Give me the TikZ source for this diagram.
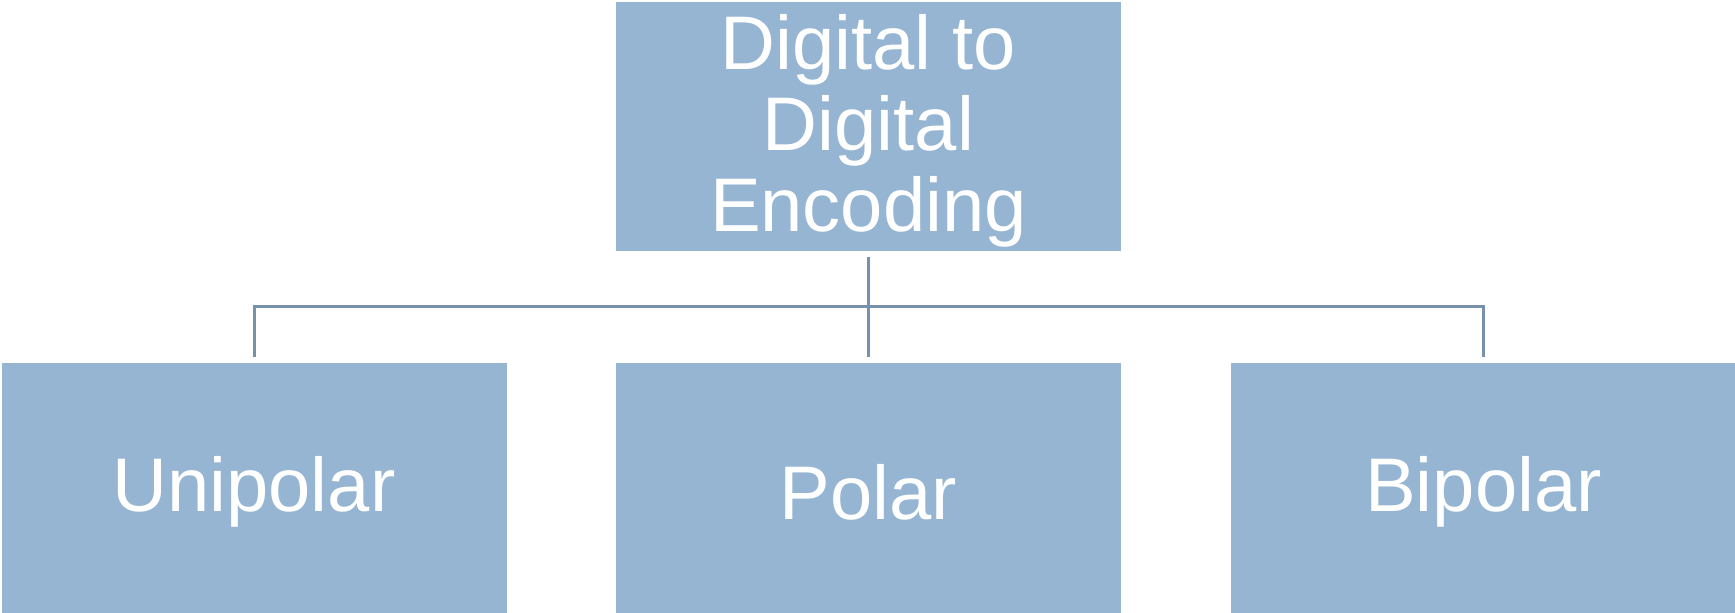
\documentclass[tikz,border=0pt]{standalone}
\usepackage{fontspec}
\setmainfont{Liberation Sans}
\usepackage{tikz}
\usetikzlibrary{positioning}
\definecolor{boxblue}{RGB}{149,181,211}
\definecolor{linkblue}{RGB}{117,145,171}
\tikzset{}

\begin{document}
\begin{tikzpicture}[x=1pt,y=-1pt]
            \tikzset{
                enc node/.style={rectangle,fill=boxblue,minimum width=505pt,minimum height=250pt,inner sep=0},
                enc text/.style={text=white,align=center,inner sep=0,yshift=-4.5pt,font=\fontsize{76}{81}\selectfont},
                enc edge/.style={draw=linkblue,line width=3pt}
            }
            \useasboundingbox (0,0) rectangle (1735,613);
            \node[enc node,minimum height=249pt,label={[enc text]center:{Digital to\\Digital\\Encoding}}] (top) at (868.5,126.5) {};
            \node[enc node,label={[enc text]center:Unipolar}] (uni) at (254.0,487.5) {};
            \node[enc node,label={[enc text]center:Polar}] (pol) at (868.5,487.5) {};
            \node[enc node,label={[enc text]center:Bipolar}] (bip) at (1483.5,487.5) {};
            \coordinate (bar) at (868.5,306.5);
            \path[enc edge]
                ([yshift=-6pt]top.south) -- ([yshift=5pt]pol.north)
                ([yshift=5pt]uni.north) |- (bar) -| ([yshift=5pt]bip.north)
                ;
        \end{tikzpicture}
\end{document}
